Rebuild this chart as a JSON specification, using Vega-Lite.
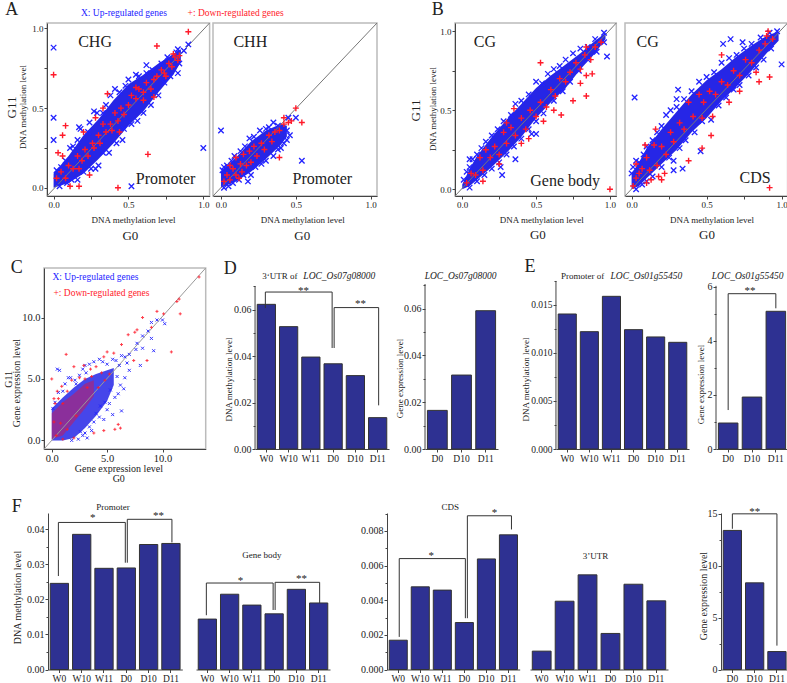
{"$schema":"https://vega.github.io/schema/vega-lite/v6.json","padding":{"left":2,"top":0,"right":0,"bottom":0},"spacing":10,"config":{"view":{"stroke":null},"text":{"font":"Liberation Serif","baseline":"middle","align":"center","color":"#222","fontSize":9},"line":{"color":"#333","strokeWidth":1},"rule":{"color":"#444","strokeWidth":1},"axis":{"grid":false,"labelFont":"Liberation Serif","titleFont":"Liberation Serif","titleFontWeight":"normal","labelColor":"#222","titleColor":"#222","domainColor":"#444","tickColor":"#444","tickSize":3,"labelPadding":1,"labelFontSize":9,"titleFontSize":9,"labelOverlap":false,"labelFlush":false,"titleBaseline":"middle"}},
"vconcat":[
{"bounds":"flush","spacing":0,"hconcat":[
{"width":2.4,"height":224,"data":{"values":[]},"mark":"rect","encoding":{}},
{"width":162.6,"height":173,"view":{"stroke":"#bbb","strokeWidth":1.5},"encoding":{"x":{"field":"x","type":"quantitative","scale":{"domain":[-0.044,1.042],"nice":false,"zero":false},"axis":{"values":[0,0.25,0.5,0.75,1],"labelExpr":"datum.value*100%50==0?format(datum.value,'.1f'):''","title":"DNA methylation level","titleX":86,"titleY":23.5}},"y":{"field":"y","type":"quantitative","scale":{"domain":[-0.0515,1.0345],"nice":false,"zero":false},"axis":{"values":[0,0.25,0.5,0.75,1],"labelExpr":"datum.value*100%50==0?format(datum.value,'.1f'):''","title":"DNA methylation level","titleX":-24.7,"titleY":83.5}}},"layer":[
{"data":{"values":[{"x":0,"y":0,"y2":0.09},{"x":0.1,"y":0.03,"y2":0.2},{"x":0.2,"y":0.09,"y2":0.33},{"x":0.3,"y":0.18,"y2":0.43},{"x":0.4,"y":0.28,"y2":0.55},{"x":0.5,"y":0.39,"y2":0.65},{"x":0.6,"y":0.48,"y2":0.71},{"x":0.7,"y":0.6,"y2":0.78},{"x":0.8,"y":0.71,"y2":0.84},{"x":0.85,"y":0.79,"y2":0.87}]},"mark":{"type":"area","color":"#2626e6"},"encoding":{"y2":{"field":"y2"}}},
{"data":{"values":[{"x":-0.044,"y":-0.0515},{"x":1.042,"y":1.0345}]},"mark":{"type":"line","color":"#777"}},
{"data":{"values":[{"x":0,"y":0.88},{"x":0,"y":0.44},{"x":0,"y":0.3},{"x":1,"y":0.25},{"x":0.52,"y":0.01},{"x":0.9,"y":0.9},{"x":0.02,"y":0.11},{"x":0.05,"y":0.13},{"x":0.08,"y":0.17},{"x":0.11,"y":0.25},{"x":0.13,"y":0.26},{"x":0.16,"y":0.3},{"x":0.17,"y":0.38},{"x":0.18,"y":0.37},{"x":0.23,"y":0.35},{"x":0.24,"y":0.41},{"x":0.27,"y":0.48},{"x":0.29,"y":0.47},{"x":0.33,"y":0.47},{"x":0.35,"y":0.52},{"x":0.38,"y":0.58},{"x":0.41,"y":0.62},{"x":0.44,"y":0.6},{"x":0.48,"y":0.64},{"x":0.5,"y":0.68},{"x":0.55,"y":0.71},{"x":0.57,"y":0.7},{"x":0.62,"y":0.72},{"x":0.62,"y":0.77},{"x":0.66,"y":0.74},{"x":0.72,"y":0.78},{"x":0.76,"y":0.82},{"x":0.82,"y":0.85},{"x":0.83,"y":0.87},{"x":0.87,"y":0.86},{"x":0.04,"y":0.01},{"x":0.09,"y":0.03},{"x":0.12,"y":0.05},{"x":0.16,"y":0.05},{"x":0.2,"y":0.1},{"x":0.25,"y":0.12},{"x":0.28,"y":0.12},{"x":0.3,"y":0.14},{"x":0.33,"y":0.22},{"x":0.37,"y":0.22},{"x":0.42,"y":0.28},{"x":0.46,"y":0.3},{"x":0.47,"y":0.37},{"x":0.52,"y":0.4},{"x":0.56,"y":0.42},{"x":0.6,"y":0.47},{"x":0.65,"y":0.52},{"x":0.7,"y":0.58},{"x":0.74,"y":0.66},{"x":0.78,"y":0.7},{"x":0.83,"y":0.72},{"x":0.84,"y":0.78}]},"mark":{"type":"point","shape":"M-1,-1L1,1M-1,1L1,-1","color":"#2222ff","size":30,"strokeWidth":1.3,"opacity":1}},
{"data":{"values":[{"x":0.9,"y":0.98},{"x":0.69,"y":0.89},{"x":0,"y":0.71},{"x":0.08,"y":0.39},{"x":0.06,"y":0.33},{"x":0.03,"y":0.22},{"x":0.06,"y":0.2},{"x":0.63,"y":0.21},{"x":0.43,"y":0},{"x":0.17,"y":0.01},{"x":0.11,"y":0.01},{"x":0.02,"y":0.06},{"x":0.05,"y":0.1},{"x":0.08,"y":0.06},{"x":0.1,"y":0.14},{"x":0.13,"y":0.12},{"x":0.16,"y":0.2},{"x":0.19,"y":0.17},{"x":0.21,"y":0.24},{"x":0.23,"y":0.2},{"x":0.26,"y":0.28},{"x":0.27,"y":0.25},{"x":0.3,"y":0.33},{"x":0.31,"y":0.28},{"x":0.33,"y":0.4},{"x":0.35,"y":0.35},{"x":0.38,"y":0.4},{"x":0.39,"y":0.36},{"x":0.41,"y":0.47},{"x":0.43,"y":0.42},{"x":0.45,"y":0.5},{"x":0.47,"y":0.46},{"x":0.5,"y":0.52},{"x":0.52,"y":0.58},{"x":0.55,"y":0.56},{"x":0.57,"y":0.62},{"x":0.6,"y":0.6},{"x":0.62,"y":0.66},{"x":0.65,"y":0.62},{"x":0.67,"y":0.68},{"x":0.69,"y":0.7},{"x":0.72,"y":0.74},{"x":0.74,"y":0.72},{"x":0.77,"y":0.78},{"x":0.79,"y":0.76},{"x":0.81,"y":0.82},{"x":0.83,"y":0.8},{"x":0.17,"y":0.12},{"x":0.24,"y":0.08},{"x":0.2,"y":0.35},{"x":0.28,"y":0.44},{"x":0.33,"y":0.5},{"x":0.36,"y":0.59},{"x":0.44,"y":0.35},{"x":0.55,"y":0.63},{"x":0.6,"y":0.55},{"x":0.67,"y":0.57},{"x":0.75,"y":0.7},{"x":0.8,"y":0.84},{"x":0.84,"y":0.83}]},"mark":{"type":"point","shape":"M-1,0L1,0M0,-1L0,1","color":"#ff1a2a","size":36,"strokeWidth":1.4,"opacity":1}},
{"data":{"values":[{"x":0.277,"y":0.916,"t":"CHG"},{"x":0.748,"y":0.054,"t":"Promoter"}]},"mark":{"type":"text","fontSize":16},"encoding":{"text":{"field":"t"}}},
{"data":{"values":[{"x":0.513,"y":-0.3,"t":"G0"}]},"mark":{"type":"text","fontSize":13},"encoding":{"text":{"field":"t"}}},
{"data":{"values":[{"x":-0.28,"y":0.504,"t":"G11"}]},"mark":{"type":"text","fontSize":13,"angle":270},"encoding":{"text":{"field":"t"}}},
{"data":{"values":[{"x":-0.28,"y":1.117,"t":"A"}]},"mark":{"type":"text","fontSize":18},"encoding":{"text":{"field":"t"}}},
{"data":{"values":[{"x":0.183,"y":1.098,"t":"X: Up-regulated genes"}]},"mark":{"type":"text","fontSize":9.5,"align":"left","color":"#2222ff"},"encoding":{"text":{"field":"t"}}},
{"data":{"values":[{"x":0.895,"y":1.098,"t":"+: Down-regulated genes"}]},"mark":{"type":"text","fontSize":9.5,"align":"left","color":"#ff1a2a"},"encoding":{"text":{"field":"t"}}}
]},
{"width":2.7,"height":173,"data":{"values":[]},"mark":"rect","encoding":{}},
{"width":164,"height":173,"view":{"stroke":"#bbb","strokeWidth":1.5},"encoding":{"x":{"field":"x","type":"quantitative","scale":{"domain":[-0.0534,1.042],"nice":false,"zero":false},"axis":{"values":[0,0.25,0.5,0.75,1],"labelExpr":"datum.value*100%50==0?format(datum.value,'.1f'):''","title":"DNA methylation level","titleX":89.3,"titleY":23.5}},"y":{"field":"y","type":"quantitative","scale":{"domain":[-0.0515,1.0345],"nice":false,"zero":false},"axis":null}},"layer":[
{"data":{"values":[{"x":0,"y":0,"y2":0.1},{"x":0.1,"y":0.04,"y2":0.19},{"x":0.2,"y":0.1,"y2":0.29},{"x":0.3,"y":0.18,"y2":0.36},{"x":0.4,"y":0.27,"y2":0.4},{"x":0.44,"y":0.32,"y2":0.39}]},"mark":{"type":"area","color":"#2626e6"},"encoding":{"y2":{"field":"y2"}}},
{"data":{"values":[{"x":-0.0534,"y":-0.0515},{"x":1.042,"y":1.0345}]},"mark":{"type":"line","color":"#777"}},
{"data":{"values":[{"x":0,"y":0.36},{"x":0.54,"y":0.17},{"x":0.18,"y":0.04},{"x":0.35,"y":0.41},{"x":0.45,"y":0.44},{"x":0.5,"y":0.44},{"x":0.01,"y":0.11},{"x":0.02,"y":0.13},{"x":0.04,"y":0.14},{"x":0.07,"y":0.17},{"x":0.09,"y":0.2},{"x":0.13,"y":0.23},{"x":0.16,"y":0.26},{"x":0.19,"y":0.31},{"x":0.22,"y":0.32},{"x":0.26,"y":0.36},{"x":0.3,"y":0.37},{"x":0.32,"y":0.38},{"x":0.38,"y":0.39},{"x":0.02,"y":0},{"x":0.05,"y":0.01},{"x":0.08,"y":0.03},{"x":0.12,"y":0.05},{"x":0.15,"y":0.08},{"x":0.2,"y":0.08},{"x":0.23,"y":0.13},{"x":0.27,"y":0.15},{"x":0.3,"y":0.17},{"x":0.35,"y":0.2},{"x":0.38,"y":0.24},{"x":0.42,"y":0.28},{"x":0.44,"y":0.3},{"x":0.46,"y":0.33},{"x":0.4,"y":0.25},{"x":0.44,"y":0.36}]},"mark":{"type":"point","shape":"M-1,-1L1,1M-1,1L1,-1","color":"#2222ff","size":30,"strokeWidth":1.3,"opacity":1}},
{"data":{"values":[{"x":0.5,"y":0.5},{"x":0.54,"y":0.41},{"x":0.39,"y":0.19},{"x":0.42,"y":0.44},{"x":0.02,"y":0.04},{"x":0.04,"y":0.08},{"x":0.06,"y":0.05},{"x":0.08,"y":0.12},{"x":0.1,"y":0.08},{"x":0.13,"y":0.15},{"x":0.14,"y":0.1},{"x":0.15,"y":0.21},{"x":0.17,"y":0.14},{"x":0.19,"y":0.23},{"x":0.2,"y":0.16},{"x":0.22,"y":0.26},{"x":0.24,"y":0.2},{"x":0.27,"y":0.28},{"x":0.29,"y":0.24},{"x":0.32,"y":0.33},{"x":0.34,"y":0.29},{"x":0.36,"y":0.35},{"x":0.39,"y":0.36},{"x":0.42,"y":0.4},{"x":0.45,"y":0.41},{"x":0.47,"y":0.42},{"x":0.06,"y":0.14},{"x":0.1,"y":0.19},{"x":0.12,"y":0.06}]},"mark":{"type":"point","shape":"M-1,0L1,0M0,-1L0,1","color":"#ff1a2a","size":36,"strokeWidth":1.4,"opacity":1}},
{"data":{"values":[{"x":0.196,"y":0.916,"t":"CHH"},{"x":0.677,"y":0.054,"t":"Promoter"}]},"mark":{"type":"text","fontSize":16},"encoding":{"text":{"field":"t"}}},
{"data":{"values":[{"x":0.543,"y":-0.3,"t":"G0"}]},"mark":{"type":"text","fontSize":13},"encoding":{"text":{"field":"t"}}}
]},
{"width":77.7,"height":173,"data":{"values":[]},"mark":"rect","encoding":{}},
{"width":161.3,"height":173,"view":{"stroke":"#bbb","strokeWidth":1.5},"encoding":{"x":{"field":"x","type":"quantitative","scale":{"domain":[-0.049,1.043],"nice":false,"zero":false},"axis":{"values":[0,0.25,0.5,0.75,1],"labelExpr":"datum.value*100%50==0?format(datum.value,'.1f'):''","title":"DNA methylation level","titleX":86.3,"titleY":23}},"y":{"field":"y","type":"quantitative","scale":{"domain":[-0.043,1.052],"nice":false,"zero":false},"axis":{"values":[0,0.25,0.5,0.75,1],"labelExpr":"datum.value*100%50==0?format(datum.value,'.1f'):''","title":"DNA methylation level","titleX":-22.7,"titleY":85.5}}},"layer":[
{"data":{"values":[{"x":0,"y":0,"y2":0.03},{"x":0.05,"y":0.02,"y2":0.13},{"x":0.1,"y":0.06,"y2":0.21},{"x":0.2,"y":0.14,"y2":0.33},{"x":0.3,"y":0.23,"y2":0.44},{"x":0.4,"y":0.33,"y2":0.54},{"x":0.5,"y":0.45,"y2":0.64},{"x":0.6,"y":0.55,"y2":0.72},{"x":0.7,"y":0.64,"y2":0.79},{"x":0.8,"y":0.76,"y2":0.86},{"x":0.9,"y":0.86,"y2":0.94},{"x":0.97,"y":0.95,"y2":0.99}]},"mark":{"type":"area","color":"#2626e6"},"encoding":{"y2":{"field":"y2"}}},
{"data":{"values":[{"x":-0.049,"y":-0.043},{"x":1.043,"y":1.052}]},"mark":{"type":"line","color":"#777"}},
{"data":{"values":[{"x":0.98,"y":0.84},{"x":0.27,"y":0.09},{"x":0.36,"y":0.19},{"x":0.05,"y":0.19},{"x":0.5,"y":0.35},{"x":0.47,"y":0.35},{"x":0.26,"y":0.14},{"x":0.01,"y":0.06},{"x":0.03,"y":0.11},{"x":0.05,"y":0.14},{"x":0.07,"y":0.19},{"x":0.1,"y":0.22},{"x":0.13,"y":0.26},{"x":0.16,"y":0.3},{"x":0.2,"y":0.34},{"x":0.24,"y":0.38},{"x":0.28,"y":0.43},{"x":0.33,"y":0.47},{"x":0.36,"y":0.54},{"x":0.4,"y":0.56},{"x":0.45,"y":0.6},{"x":0.5,"y":0.68},{"x":0.54,"y":0.67},{"x":0.58,"y":0.73},{"x":0.62,"y":0.76},{"x":0.66,"y":0.78},{"x":0.7,"y":0.82},{"x":0.75,"y":0.86},{"x":0.8,"y":0.89},{"x":0.85,"y":0.9},{"x":0.9,"y":0.95},{"x":0.96,"y":0.99},{"x":0.05,"y":0.01},{"x":0.1,"y":0.05},{"x":0.15,"y":0.09},{"x":0.2,"y":0.13},{"x":0.25,"y":0.17},{"x":0.3,"y":0.22},{"x":0.35,"y":0.27},{"x":0.4,"y":0.32},{"x":0.45,"y":0.38},{"x":0.5,"y":0.43},{"x":0.55,"y":0.48},{"x":0.62,"y":0.56},{"x":0.68,"y":0.62},{"x":0.73,"y":0.68},{"x":0.79,"y":0.75},{"x":0.85,"y":0.82},{"x":0.91,"y":0.87},{"x":0.96,"y":0.93}]},"mark":{"type":"point","shape":"M-1,-1L1,1M-1,1L1,-1","color":"#2222ff","size":30,"strokeWidth":1.3,"opacity":1}},
{"data":{"values":[{"x":1,"y":0},{"x":0.53,"y":0.8},{"x":0.84,"y":0.72},{"x":0.8,"y":0.67},{"x":0.84,"y":0.59},{"x":0.75,"y":0.56},{"x":0.67,"y":0.47},{"x":0.88,"y":0.73},{"x":0.14,"y":0.05},{"x":0.03,"y":0.04},{"x":0.06,"y":0.1},{"x":0.09,"y":0.09},{"x":0.12,"y":0.2},{"x":0.14,"y":0.12},{"x":0.16,"y":0.25},{"x":0.19,"y":0.2},{"x":0.22,"y":0.27},{"x":0.25,"y":0.22},{"x":0.28,"y":0.36},{"x":0.3,"y":0.29},{"x":0.33,"y":0.39},{"x":0.36,"y":0.34},{"x":0.4,"y":0.45},{"x":0.43,"y":0.38},{"x":0.46,"y":0.5},{"x":0.5,"y":0.46},{"x":0.53,"y":0.55},{"x":0.57,"y":0.52},{"x":0.6,"y":0.63},{"x":0.63,"y":0.59},{"x":0.66,"y":0.7},{"x":0.7,"y":0.68},{"x":0.73,"y":0.74},{"x":0.77,"y":0.8},{"x":0.8,"y":0.76},{"x":0.83,"y":0.85},{"x":0.87,"y":0.82},{"x":0.9,"y":0.9},{"x":0.94,"y":0.93},{"x":0.3,"y":0.42},{"x":0.4,"y":0.29},{"x":0.45,"y":0.32},{"x":0.55,"y":0.43},{"x":0.62,"y":0.5},{"x":0.35,"y":0.51},{"x":0.25,"y":0.16},{"x":0.84,"y":0.9}]},"mark":{"type":"point","shape":"M-1,0L1,0M0,-1L0,1","color":"#ff1a2a","size":36,"strokeWidth":1.4,"opacity":1}},
{"data":{"values":[{"x":0.153,"y":0.933,"t":"CG"},{"x":0.697,"y":0.053,"t":"Gene body"}]},"mark":{"type":"text","fontSize":16},"encoding":{"text":{"field":"t"}}},
{"data":{"values":[{"x":0.512,"y":-0.293,"t":"G0"}]},"mark":{"type":"text","fontSize":13},"encoding":{"text":{"field":"t"}}},
{"data":{"values":[{"x":-0.313,"y":0.498,"t":"G11"}]},"mark":{"type":"text","fontSize":13,"angle":270},"encoding":{"text":{"field":"t"}}},
{"data":{"values":[{"x":-0.165,"y":1.135,"t":"B"}]},"mark":{"type":"text","fontSize":18},"encoding":{"text":{"field":"t"}}}
]},
{"width":7.7,"height":173,"data":{"values":[]},"mark":"rect","encoding":{}},
{"width":162.6,"height":173,"view":{"stroke":"#bbb","strokeWidth":1.5},"encoding":{"x":{"field":"x","type":"quantitative","scale":{"domain":[-0.044,1.04],"nice":false,"zero":false},"axis":{"values":[0,0.25,0.5,0.75,1],"labelExpr":"datum.value*100%50==0?format(datum.value,'.1f'):''","title":"DNA methylation level","titleX":86.6,"titleY":23}},"y":{"field":"y","type":"quantitative","scale":{"domain":[-0.043,1.052],"nice":false,"zero":false},"axis":null}},"layer":[
{"data":{"values":[{"x":0,"y":0,"y2":0.1},{"x":0.05,"y":0.02,"y2":0.17},{"x":0.1,"y":0.07,"y2":0.26},{"x":0.2,"y":0.16,"y2":0.38},{"x":0.3,"y":0.25,"y2":0.49},{"x":0.4,"y":0.36,"y2":0.6},{"x":0.5,"y":0.45,"y2":0.69},{"x":0.6,"y":0.56,"y2":0.76},{"x":0.7,"y":0.65,"y2":0.84},{"x":0.8,"y":0.75,"y2":0.91},{"x":0.9,"y":0.86,"y2":0.97},{"x":0.98,"y":0.94,"y2":1}]},"mark":{"type":"area","color":"#2626e6"},"encoding":{"y2":{"field":"y2"}}},
{"data":{"values":[{"x":-0.044,"y":-0.043},{"x":1.04,"y":1.052}]},"mark":{"type":"line","color":"#777"}},
{"data":{"values":[{"x":0.02,"y":0.58},{"x":1,"y":0.79},{"x":0.66,"y":0.95},{"x":0.61,"y":0.92},{"x":0.74,"y":0.93},{"x":0.31,"y":0.63},{"x":0.3,"y":0.57},{"x":0.46,"y":0.24},{"x":0.28,"y":0.12},{"x":0.34,"y":0.13},{"x":0,"y":0.1},{"x":0.01,"y":0.14},{"x":0.03,"y":0.18},{"x":0.05,"y":0.17},{"x":0.08,"y":0.22},{"x":0.1,"y":0.27},{"x":0.14,"y":0.31},{"x":0.17,"y":0.36},{"x":0.2,"y":0.4},{"x":0.23,"y":0.47},{"x":0.26,"y":0.5},{"x":0.3,"y":0.52},{"x":0.35,"y":0.57},{"x":0.4,"y":0.62},{"x":0.45,"y":0.68},{"x":0.5,"y":0.71},{"x":0.55,"y":0.74},{"x":0.6,"y":0.8},{"x":0.65,"y":0.83},{"x":0.7,"y":0.85},{"x":0.75,"y":0.89},{"x":0.8,"y":0.92},{"x":0.86,"y":0.96},{"x":0.92,"y":0.99},{"x":0.97,"y":1},{"x":0.03,"y":0},{"x":0.07,"y":0.03},{"x":0.1,"y":0.05},{"x":0.14,"y":0.08},{"x":0.2,"y":0.14},{"x":0.25,"y":0.2},{"x":0.28,"y":0.18},{"x":0.32,"y":0.26},{"x":0.36,"y":0.31},{"x":0.42,"y":0.36},{"x":0.47,"y":0.43},{"x":0.53,"y":0.44},{"x":0.58,"y":0.53},{"x":0.63,"y":0.58},{"x":0.68,"y":0.63},{"x":0.72,"y":0.66},{"x":0.78,"y":0.72},{"x":0.83,"y":0.77},{"x":0.88,"y":0.82},{"x":0.93,"y":0.89}]},"mark":{"type":"point","shape":"M-1,-1L1,1M-1,1L1,-1","color":"#2222ff","size":30,"strokeWidth":1.3,"opacity":1}},
{"data":{"values":[{"x":0.92,"y":0.01},{"x":0.91,"y":1},{"x":0.6,"y":0.85},{"x":0.92,"y":0.71},{"x":0.85,"y":0.68},{"x":0.47,"y":0.26},{"x":0.18,"y":0.08},{"x":0.2,"y":0.06},{"x":0.1,"y":0.04},{"x":0.38,"y":0.18},{"x":0.53,"y":0.34},{"x":0.01,"y":0.02},{"x":0.03,"y":0.07},{"x":0.05,"y":0.1},{"x":0.07,"y":0.13},{"x":0.1,"y":0.2},{"x":0.12,"y":0.12},{"x":0.15,"y":0.28},{"x":0.17,"y":0.15},{"x":0.2,"y":0.27},{"x":0.23,"y":0.22},{"x":0.26,"y":0.36},{"x":0.28,"y":0.3},{"x":0.32,"y":0.42},{"x":0.35,"y":0.38},{"x":0.38,"y":0.55},{"x":0.41,"y":0.46},{"x":0.45,"y":0.6},{"x":0.48,"y":0.55},{"x":0.52,"y":0.62},{"x":0.56,"y":0.6},{"x":0.6,"y":0.68},{"x":0.64,"y":0.66},{"x":0.68,"y":0.75},{"x":0.72,"y":0.72},{"x":0.76,"y":0.82},{"x":0.8,"y":0.8},{"x":0.85,"y":0.88},{"x":0.89,"y":0.92},{"x":0.94,"y":0.95},{"x":0.9,"y":0.97},{"x":0.09,"y":0.28},{"x":0.16,"y":0.38},{"x":0.22,"y":0.1},{"x":0.47,"y":0.45},{"x":0.54,"y":0.46},{"x":0.65,"y":0.55},{"x":0.83,"y":0.74},{"x":0.72,"y":0.62},{"x":0.03,"y":0.16},{"x":0.13,"y":0.06}]},"mark":{"type":"point","shape":"M-1,0L1,0M0,-1L0,1","color":"#ff1a2a","size":36,"strokeWidth":1.4,"opacity":1}},
{"data":{"values":[{"x":0.107,"y":0.933,"t":"CG"},{"x":0.823,"y":0.068,"t":"CDS"}]},"mark":{"type":"text","fontSize":16},"encoding":{"text":{"field":"t"}}},
{"data":{"values":[{"x":0.503,"y":-0.293,"t":"G0"}]},"mark":{"type":"text","fontSize":13},"encoding":{"text":{"field":"t"}}}
]}
]},
{"bounds":"flush","spacing":0,"hconcat":[
{"width":161.7,"height":181,"view":{"stroke":"#bbb","strokeWidth":1.5},"encoding":{"x":{"field":"x","type":"quantitative","scale":{"domain":[-0.7,13.9],"nice":false,"zero":false},"axis":{"values":[0,5,10],"format":".1f","labelFontSize":10.5,"title":"Gene expression level","titleFontSize":10,"titleX":74.4,"titleY":19.4}},"y":{"field":"y","type":"quantitative","scale":{"domain":[-0.7,14.03],"nice":false,"zero":false},"axis":{"values":[0,5,10],"format":".1f","labelFontSize":10.5,"title":"Gene expression level","titleFontSize":10,"titleX":-27.3,"titleY":114.5}}},"layer":[
{"data":{"values":[{"x":0,"y":0,"y2":2.6},{"x":1,"y":0,"y2":3.5},{"x":2,"y":0.2,"y2":4.3},{"x":3,"y":1,"y2":5},{"x":4,"y":2,"y2":5.4},{"x":5,"y":3.2,"y2":5.7},{"x":5.6,"y":4.5,"y2":5.9}]},"mark":{"type":"area","color":"#2626e6","opacity":0.85},"encoding":{"y2":{"field":"y2"}}},
{"data":{"values":[{"x":0,"y":0.1,"y2":2.2},{"x":1,"y":0.4,"y2":3.1},{"x":2,"y":1.5,"y2":3.8},{"x":3,"y":2.6,"y2":4.6},{"x":3.8,"y":3.6,"y2":4.9}]},"mark":{"type":"area","color":"#e0143c","opacity":0.45},"encoding":{"y2":{"field":"y2"}}},
{"data":{"values":[{"x":-0.7,"y":-0.7},{"x":13.9,"y":14.03}]},"mark":{"type":"line","color":"#999"}},
{"data":{"values":[{"x":0.1,"y":2.6},{"x":0.3,"y":3.1},{"x":0.6,"y":3.9},{"x":0.5,"y":5.8},{"x":0.7,"y":5.7},{"x":1,"y":4},{"x":1.2,"y":4.6},{"x":1.5,"y":5.1},{"x":1.7,"y":5.1},{"x":2.2,"y":4.6},{"x":2.5,"y":5.3},{"x":2.8,"y":5.8},{"x":3,"y":6.1},{"x":3.4,"y":6.2},{"x":3.8,"y":6.4},{"x":4.3,"y":6.6},{"x":4.6,"y":6.4},{"x":5,"y":6.2},{"x":5.5,"y":6.6},{"x":5.8,"y":6.5},{"x":6.3,"y":6.9},{"x":6.6,"y":6.8},{"x":6.8,"y":6.3},{"x":7,"y":7},{"x":7.6,"y":7.4},{"x":8.2,"y":8.5},{"x":8.7,"y":8.9},{"x":9,"y":8.3},{"x":9.2,"y":7.3},{"x":9,"y":9.6},{"x":9.5,"y":9.8},{"x":10,"y":9.8},{"x":10.2,"y":9.5},{"x":8.2,"y":7.5},{"x":7.7,"y":7.9},{"x":8,"y":6.1},{"x":6.6,"y":5.1},{"x":6.2,"y":4.5},{"x":6,"y":3.8},{"x":5.2,"y":3},{"x":5.5,"y":2.1},{"x":6.3,"y":2.4},{"x":4.7,"y":1.7},{"x":4.4,"y":2.8},{"x":3.8,"y":1.5},{"x":3.6,"y":0.8},{"x":3,"y":0.6},{"x":2.4,"y":0.1},{"x":1.8,"y":0},{"x":3.2,"y":0.2},{"x":2.6,"y":0.7},{"x":4,"y":2.2},{"x":5,"y":2.5},{"x":6.5,"y":4.2},{"x":7,"y":5.7},{"x":5.9,"y":5.2},{"x":6.1,"y":6.1},{"x":5.3,"y":4.1},{"x":5.7,"y":3.5},{"x":4.8,"y":3.1},{"x":4.3,"y":1.9},{"x":3.4,"y":1.1},{"x":2.8,"y":0.4},{"x":3.1,"y":5.5},{"x":2.1,"y":4.9}]},"mark":{"type":"point","shape":"M-1,-1L1,1M-1,1L1,-1","color":"#2222ff","size":9,"strokeWidth":1,"opacity":0.9}},
{"data":{"values":[{"x":0,"y":5},{"x":0.3,"y":3},{"x":0.2,"y":3.4},{"x":0.5,"y":4},{"x":0.9,"y":4.4},{"x":1.3,"y":7},{"x":2,"y":6},{"x":2.9,"y":6.1},{"x":3.5,"y":5.8},{"x":4,"y":6},{"x":4.7,"y":6.8},{"x":5,"y":7.2},{"x":5.6,"y":7.1},{"x":6.3,"y":7.8},{"x":6.9,"y":8.6},{"x":7.7,"y":9},{"x":7.5,"y":8.8},{"x":8.2,"y":10},{"x":9,"y":9.2},{"x":9.5,"y":10.5},{"x":10.1,"y":10.3},{"x":10.8,"y":7.2},{"x":11.6,"y":10.3},{"x":11.5,"y":11.5},{"x":11.3,"y":11.3},{"x":13.3,"y":13.3},{"x":8.6,"y":6.5},{"x":7.4,"y":6.5},{"x":6,"y":1.3},{"x":6.2,"y":1},{"x":5.7,"y":0.9},{"x":4.7,"y":0.8},{"x":3.8,"y":0.6},{"x":2,"y":0.2},{"x":1,"y":0.1},{"x":0.4,"y":0.4},{"x":0.8,"y":1.4},{"x":1.8,"y":4.9},{"x":2.5,"y":5.1},{"x":3,"y":5},{"x":3.2,"y":4.3},{"x":4.5,"y":5.5},{"x":1,"y":3},{"x":0.2,"y":1.5},{"x":4.2,"y":4.3},{"x":4.8,"y":4.9},{"x":5.2,"y":5.4},{"x":3.6,"y":5.2},{"x":2.2,"y":2},{"x":1.4,"y":0.9},{"x":0.6,"y":3.4},{"x":1.4,"y":4}]},"mark":{"type":"point","shape":"M-1,0L1,0M0,-1L0,1","color":"#ff1a2a","size":9,"strokeWidth":1,"opacity":0.85}},
{"data":{"values":[{"x":0.06,"y":13.26,"t":"X: Up-regulated genes"}]},"mark":{"type":"text","fontSize":9.5,"align":"left","color":"#2222ff"},"encoding":{"text":{"field":"t"}}},
{"data":{"values":[{"x":0.15,"y":12,"t":"+: Down-regulated genes"}]},"mark":{"type":"text","fontSize":9.5,"align":"left","color":"#ff1a2a"},"encoding":{"text":{"field":"t"}}},
{"data":{"values":[{"x":6.05,"y":-3.18,"t":"G0"}]},"mark":{"type":"text","fontSize":10},"encoding":{"text":{"field":"t"}}},
{"data":{"values":[{"x":-3.9,"y":4.97,"t":"G11"}]},"mark":{"type":"text","fontSize":10,"angle":270},"encoding":{"text":{"field":"t"}}},
{"data":{"values":[{"x":-3.16,"y":14.07,"t":"C"}]},"mark":{"type":"text","fontSize":18},"encoding":{"text":{"field":"t"}}}
]},
{"width":48.7,"height":220,"data":{"values":[]},"mark":"rect","encoding":{}},
{"width":134,"height":181,"encoding":{"x":{"field":"c","type":"nominal","sort":null,"scale":{"domain":["W0","W10","W11","D0","D10","D11"],"type":"band","paddingInner":0.18,"paddingOuter":0.1},"axis":{"title":null,"labelAngle":0,"labelFontSize":9.5}},"y":{"field":"y","type":"quantitative","scale":{"domain":[0,0.07795],"nice":false},"axis":{"domain":false,"values":[0,0.01,0.02,0.03,0.04,0.05,0.06,0.07],"labelExpr":"round(datum.value*100)%2==0?format(datum.value,'.2f'):''","labelFontSize":10,"tickSize":{"condition":{"test":"round(datum.value*100)%2==0","value":3},"value":2},"title":"DNA methylation level","titleX":-26.7,"titleY":111}}},"layer":[
{"data":{"values":[{"c":"W0","y":0.0623},{"c":"W10","y":0.0527},{"c":"W11","y":0.0396},{"c":"D0","y":0.0367},{"c":"D10","y":0.0316},{"c":"D11","y":0.0135}]},"mark":{"type":"bar","color":"#2e3192","stroke":"#333","strokeWidth":1}},
{"data":{"values":[{"c":"W0","y":0,"y2":0.0702}]},"mark":{"type":"rule","xOffset":-11.3},"encoding":{"y2":{"field":"y2"}}},
{"data":{"values":[{"c":"W0","y":0.0607,"o":1},{"c":"W0","y":0.0676,"o":2},{"c":"D0","y":0.0676,"o":3},{"c":"D0","y":0.0435,"o":4}]},"mark":{"type":"line","xOffset":-1},"encoding":{"order":{"field":"o"}}},
{"data":{"values":[{"c":"D0","y":0.0435,"o":1},{"c":"D0","y":0.0609,"o":2},{"c":"D11","y":0.0609,"o":3},{"c":"D11","y":0.0188,"o":4}]},"mark":{"type":"line","xOffset":1},"encoding":{"order":{"field":"o"}}},
{"data":{"values":[{"c":"W10","y":0.069,"t":"**"}]},"mark":{"type":"text","fontSize":11,"dx":15,"dy":2},"encoding":{"text":{"field":"t"}}},
{"data":{"values":[{"c":"D10","y":0.0633,"t":"**"}]},"mark":{"type":"text","fontSize":11,"dx":5,"dy":2},"encoding":{"text":{"field":"t"}}},
{"data":{"values":[{"c":"W0","y":0.0745,"t":"3‘UTR of"}]},"mark":{"type":"text","align":"left","dx":-4},"encoding":{"text":{"field":"t"}}},
{"data":{"values":[{"c":"W0","y":0.0745,"t":"LOC_Os07g08000"}]},"mark":{"type":"text","align":"left","dx":37,"fontStyle":"italic","fontSize":9.5},"encoding":{"text":{"field":"t"}}},
{"data":{"values":[{"c":"W0","y":0.0776,"t":"D"}]},"mark":{"type":"text","fontSize":18,"dx":-36},"encoding":{"text":{"field":"t"}}}
]},
{"width":35.3,"height":181,"data":{"values":[]},"mark":"rect","encoding":{}},
{"width":73,"height":181,"encoding":{"x":{"field":"c","type":"nominal","sort":null,"scale":{"domain":["D0","D10","D11"],"type":"band","paddingInner":0.18,"paddingOuter":0.1},"axis":{"title":null,"labelAngle":0,"labelFontSize":9.5}},"y":{"field":"y","type":"quantitative","scale":{"domain":[0,0.07735],"nice":false},"axis":{"domain":false,"values":[0,0.01,0.02,0.03,0.04,0.05,0.06,0.07],"labelExpr":"round(datum.value*100)%2==0?format(datum.value,'.2f'):''","labelFontSize":10,"tickSize":{"condition":{"test":"round(datum.value*100)%2==0","value":3},"value":2},"title":"Gene expression level","titleX":-26,"titleY":110}}},"layer":[
{"data":{"values":[{"c":"D0","y":0.0165},{"c":"D10","y":0.0316},{"c":"D11","y":0.0591}]},"mark":{"type":"bar","color":"#2e3192","stroke":"#333","strokeWidth":1}},
{"data":{"values":[{"c":"D0","y":0,"y2":0.0705}]},"mark":{"type":"rule","xOffset":-12.3},"encoding":{"y2":{"field":"y2"}}},
{"data":{"values":[{"c":"D0","y":0.0739,"t":"LOC_Os07g08000"}]},"mark":{"type":"text","align":"left","dx":-12.6,"fontStyle":"italic","fontSize":9.5},"encoding":{"text":{"field":"t"}}}
]},
{"width":57.7,"height":181,"data":{"values":[]},"mark":"rect","encoding":{}},
{"width":133,"height":181,"encoding":{"x":{"field":"c","type":"nominal","sort":null,"scale":{"domain":["W0","W10","W11","D0","D10","D11"],"type":"band","paddingInner":0.18,"paddingOuter":0.1},"axis":{"title":null,"labelAngle":0,"labelFontSize":9.5}},"y":{"field":"y","type":"quantitative","scale":{"domain":[0,0.01885],"nice":false},"axis":{"domain":false,"values":[0,0.0025,0.005,0.0075,0.01,0.0125,0.015,0.0175],"labelExpr":"round(datum.value*10000)%50==0?format(datum.value,'.3f'):''","labelFontSize":9.5,"tickSize":{"condition":{"test":"round(datum.value*10000)%50==0","value":3},"value":2},"title":"DNA methylation level","titleX":-31,"titleY":111}}},"layer":[
{"data":{"values":[{"c":"W0","y":0.01406},{"c":"W10","y":0.01222},{"c":"W11","y":0.0159},{"c":"D0","y":0.01243},{"c":"D10","y":0.01167},{"c":"D11","y":0.01111}]},"mark":{"type":"bar","color":"#2e3192","stroke":"#333","strokeWidth":1}},
{"data":{"values":[{"c":"W0","y":0,"y2":0.0175}]},"mark":{"type":"rule","xOffset":-11.3},"encoding":{"y2":{"field":"y2"}}},
{"data":{"values":[{"c":"W0","y":0.01802,"t":"Promoter of"}]},"mark":{"type":"text","align":"left","dx":-6.3},"encoding":{"text":{"field":"t"}}},
{"data":{"values":[{"c":"W0","y":0.01802,"t":"LOC_Os01g55450"}]},"mark":{"type":"text","align":"left","dx":43.3,"fontStyle":"italic","fontSize":9.5},"encoding":{"text":{"field":"t"}}},
{"data":{"values":[{"c":"W0","y":0.01896,"t":"E"}]},"mark":{"type":"text","fontSize":18,"dx":-37.3},"encoding":{"text":{"field":"t"}}}
]},
{"width":27,"height":181,"data":{"values":[]},"mark":"rect","encoding":{}},
{"width":72,"height":181,"encoding":{"x":{"field":"c","type":"nominal","sort":null,"scale":{"domain":["D0","D10","D11"],"type":"band","paddingInner":0.18,"paddingOuter":0.1},"axis":{"title":null,"labelAngle":0,"labelFontSize":9.5}},"y":{"field":"y","type":"quantitative","scale":{"domain":[0,6.69],"nice":false},"axis":{"domain":false,"values":[0,1,2,3,4,5,6],"labelExpr":"datum.value%2==0?datum.label:''","labelFontSize":10,"tickSize":{"condition":{"test":"datum.value%2==0","value":3},"value":2},"title":"Gene expression level","titleX":-15.7,"titleY":116}}},"layer":[
{"data":{"values":[{"c":"D0","y":0.96},{"c":"D10","y":1.92},{"c":"D11","y":5.09}]},"mark":{"type":"bar","color":"#2e3192","stroke":"#333","strokeWidth":1}},
{"data":{"values":[{"c":"D0","y":0,"y2":6.03}]},"mark":{"type":"rule","xOffset":-12.15},"encoding":{"y2":{"field":"y2"}}},
{"data":{"values":[{"c":"D0","y":1.44,"o":1},{"c":"D0","y":5.74,"o":2},{"c":"D11","y":5.74,"o":3},{"c":"D11","y":5.2,"o":4}]},"mark":{"type":"line"},"encoding":{"order":{"field":"o"}}},
{"data":{"values":[{"c":"D10","y":5.9,"t":"**"}]},"mark":{"type":"text","fontSize":11,"dx":-2,"dy":2},"encoding":{"text":{"field":"t"}}},
{"data":{"values":[{"c":"D0","y":6.38,"t":"LOC_Os01g55450"}]},"mark":{"type":"text","align":"left","dx":-16.4,"fontStyle":"italic","fontSize":9.5},"encoding":{"text":{"field":"t"}}}
]}
]},
{"bounds":"flush","spacing":0,"hconcat":[
{"width":3.4,"height":156.5,"data":{"values":[]},"mark":"rect","encoding":{}},
{"width":134.3,"height":156.5,"encoding":{"x":{"field":"c","type":"nominal","sort":null,"scale":{"domain":["W0","W10","W11","D0","D10","D11"],"type":"band","paddingInner":0.18,"paddingOuter":0.1},"axis":{"title":null,"labelAngle":0,"labelFontSize":9.5}},"y":{"field":"y","type":"quantitative","scale":{"domain":[0,0.0447],"nice":false},"axis":{"values":[0,0.005,0.01,0.015,0.02,0.025,0.03,0.035,0.04],"labelExpr":"round(datum.value*1000)%10==0?format(datum.value,'.2f'):''","labelFontSize":10,"tickSize":{"condition":{"test":"round(datum.value*1000)%10==0","value":3},"value":2},"title":"DNA methylation level","titleFontSize":10,"titleX":-30.7,"titleY":84}}},"layer":[
{"data":{"values":[{"c":"W0","y":0.0246},{"c":"W10","y":0.0386},{"c":"W11","y":0.0289},{"c":"D0","y":0.029},{"c":"D10","y":0.0357},{"c":"D11","y":0.036}]},"mark":{"type":"bar","color":"#2e3192","stroke":"#333","strokeWidth":1}},
{"data":{"values":[{"c":"W0","y":0.0267,"o":1},{"c":"W0","y":0.042,"o":2},{"c":"D0","y":0.042,"o":3},{"c":"D0","y":0.0305,"o":4}]},"mark":{"type":"line","xOffset":-1},"encoding":{"order":{"field":"o"}}},
{"data":{"values":[{"c":"D0","y":0.0305,"o":1},{"c":"D0","y":0.0429,"o":2},{"c":"D11","y":0.0429,"o":3},{"c":"D11","y":0.0363,"o":4}]},"mark":{"type":"line","xOffset":1},"encoding":{"order":{"field":"o"}}},
{"data":{"values":[{"c":"W10","y":0.0438,"t":"*"}]},"mark":{"type":"text","fontSize":11,"dx":11,"dy":2},"encoding":{"text":{"field":"t"}}},
{"data":{"values":[{"c":"D10","y":0.0445,"t":"**"}]},"mark":{"type":"text","fontSize":11,"dx":10,"dy":2},"encoding":{"text":{"field":"t"}}},
{"data":{"values":[{"c":"W11","y":0.0464,"t":"Promoter"}]},"mark":{"type":"text","dx":9},"encoding":{"text":{"field":"t"}}},
{"data":{"values":[{"c":"W0","y":0.0464,"t":"F"}]},"mark":{"type":"text","fontSize":18,"dx":-42.7},"encoding":{"text":{"field":"t"}}}
]},
{"width":13,"height":156.5,"data":{"values":[]},"mark":"rect","encoding":{}},
{"width":134,"height":156.5,"encoding":{"x":{"field":"c","type":"nominal","sort":null,"scale":{"domain":["W0","W10","W11","D0","D10","D11"],"type":"band","paddingInner":0.18,"paddingOuter":0.1},"axis":{"title":null,"labelAngle":0,"labelFontSize":9.5}},"y":{"field":"y","type":"quantitative","scale":{"domain":[0,0.0447],"nice":false},"axis":null}},"layer":[
{"data":{"values":[{"c":"W0","y":0.0144},{"c":"W10","y":0.0215},{"c":"W11","y":0.0184},{"c":"D0","y":0.0159},{"c":"D10","y":0.0229},{"c":"D11","y":0.019}]},"mark":{"type":"bar","color":"#2e3192","stroke":"#333","strokeWidth":1}},
{"data":{"values":[{"c":"W0","y":0.0155,"o":1},{"c":"W0","y":0.0247,"o":2},{"c":"D0","y":0.0247,"o":3},{"c":"D0","y":0.017,"o":4}]},"mark":{"type":"line","xOffset":-1},"encoding":{"order":{"field":"o"}}},
{"data":{"values":[{"c":"D0","y":0.017,"o":1},{"c":"D0","y":0.0249,"o":2},{"c":"D11","y":0.0249,"o":3},{"c":"D11","y":0.019,"o":4}]},"mark":{"type":"line","xOffset":1},"encoding":{"order":{"field":"o"}}},
{"data":{"values":[{"c":"W10","y":0.0258,"t":"*"}]},"mark":{"type":"text","fontSize":11,"dx":11,"dy":2},"encoding":{"text":{"field":"t"}}},
{"data":{"values":[{"c":"D10","y":0.0265,"t":"**"}]},"mark":{"type":"text","fontSize":11,"dx":5,"dy":2},"encoding":{"text":{"field":"t"}}},
{"data":{"values":[{"c":"W11","y":0.0327,"t":"Gene body"}]},"mark":{"type":"text","dx":10},"encoding":{"text":{"field":"t"}}}
]},
{"width":56.3,"height":156.5,"data":{"values":[]},"mark":"rect","encoding":{}},
{"width":132.7,"height":156.5,"encoding":{"x":{"field":"c","type":"nominal","sort":null,"scale":{"domain":["W0","W10","W11","D0","D10","D11"],"type":"band","paddingInner":0.18,"paddingOuter":0.1},"axis":{"title":null,"labelAngle":0,"labelFontSize":9.5}},"y":{"field":"y","type":"quantitative","scale":{"domain":[0,0.00903],"nice":false},"axis":{"values":[0,0.001,0.002,0.003,0.004,0.005,0.006,0.007,0.008,0.009],"labelExpr":"round(datum.value*1000)%2==0?format(datum.value,'.3f'):''","labelFontSize":10,"tickSize":{"condition":{"test":"round(datum.value*1000)%2==0","value":3},"value":2},"title":null}}},"layer":[
{"data":{"values":[{"c":"W0","y":0.00169},{"c":"W10","y":0.00477},{"c":"W11","y":0.00458},{"c":"D0","y":0.00271},{"c":"D10","y":0.00638},{"c":"D11","y":0.00777}]},"mark":{"type":"bar","color":"#2e3192","stroke":"#333","strokeWidth":1}},
{"data":{"values":[{"c":"W0","y":0.00188,"o":1},{"c":"W0","y":0.0064,"o":2},{"c":"D0","y":0.0064,"o":3},{"c":"D0","y":0.00296,"o":4}]},"mark":{"type":"line","xOffset":1},"encoding":{"order":{"field":"o"}}},
{"data":{"values":[{"c":"D0","y":0.00296,"o":1},{"c":"D0","y":0.00887,"o":2},{"c":"D11","y":0.00887,"o":3},{"c":"D11","y":0.00808,"o":4}]},"mark":{"type":"line","xOffset":3},"encoding":{"order":{"field":"o"}}},
{"data":{"values":[{"c":"W10","y":0.00665,"t":"*"}]},"mark":{"type":"text","fontSize":11,"dx":11,"dy":2},"encoding":{"text":{"field":"t"}}},
{"data":{"values":[{"c":"D10","y":0.00912,"t":"*"}]},"mark":{"type":"text","fontSize":11,"dx":8,"dy":2},"encoding":{"text":{"field":"t"}}},
{"data":{"values":[{"c":"W11","y":0.00935,"t":"CDS"}]},"mark":{"type":"text","dx":8},"encoding":{"text":{"field":"t"}}}
]},
{"width":9.3,"height":156.5,"data":{"values":[]},"mark":"rect","encoding":{}},
{"width":138,"height":156.5,"encoding":{"x":{"field":"c","type":"nominal","sort":null,"scale":{"domain":["W0","W10","W11","D0","D10","D11"],"type":"band","paddingInner":0.18,"paddingOuter":0.1},"axis":{"title":null,"labelAngle":0,"labelFontSize":9.5}},"y":{"field":"y","type":"quantitative","scale":{"domain":[0,0.00903],"nice":false},"axis":null}},"layer":[
{"data":{"values":[{"c":"W0","y":0.00106},{"c":"W10","y":0.00394},{"c":"W11","y":0.00546},{"c":"D0","y":0.00208},{"c":"D10","y":0.00492},{"c":"D11","y":0.00396}]},"mark":{"type":"bar","color":"#2e3192","stroke":"#333","strokeWidth":1}},
{"data":{"values":[{"c":"W11","y":0.00656,"t":"3’UTR"}]},"mark":{"type":"text","dx":8},"encoding":{"text":{"field":"t"}}}
]},
{"width":52.7,"height":156.5,"data":{"values":[]},"mark":"rect","encoding":{}},
{"width":67.3,"height":156.5,"encoding":{"x":{"field":"c","type":"nominal","sort":null,"scale":{"domain":["D0","D10","D11"],"type":"band","paddingInner":0.18,"paddingOuter":0.1},"axis":{"title":null,"labelAngle":0,"labelFontSize":9.5}},"y":{"field":"y","type":"quantitative","scale":{"domain":[0,15.08],"nice":false},"axis":{"values":[0,2.5,5,7.5,10,12.5,15],"labelExpr":"datum.value%5==0?datum.label:''","labelFontSize":10,"tickSize":{"condition":{"test":"datum.value%5==0","value":3},"value":2},"title":"Gene expression level","titleFontSize":10,"titleX":-18,"titleY":82.5}}},"layer":[
{"data":{"values":[{"c":"D0","y":13.4},{"c":"D10","y":8.35},{"c":"D11","y":1.73}]},"mark":{"type":"bar","color":"#2e3192","stroke":"#333","strokeWidth":1}},
{"data":{"values":[{"c":"D0","y":13.56,"o":1},{"c":"D0","y":15,"o":2},{"c":"D11","y":15,"o":3},{"c":"D11","y":2.3,"o":4}]},"mark":{"type":"line"},"encoding":{"order":{"field":"o"}}},
{"data":{"values":[{"c":"D10","y":15.4,"t":"**"}]},"mark":{"type":"text","fontSize":11,"dx":0,"dy":2},"encoding":{"text":{"field":"t"}}}
]}
]}
]}
